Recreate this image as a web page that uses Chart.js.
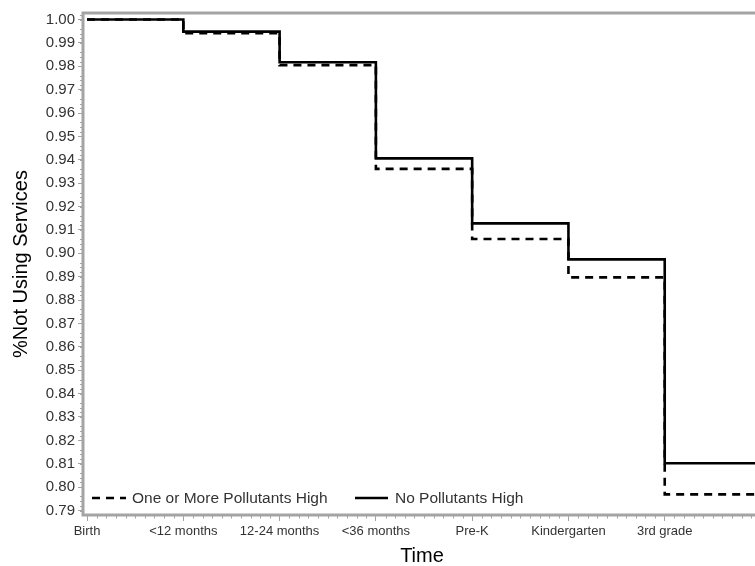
<!DOCTYPE html>
<html>
<head>
<meta charset="utf-8">
<script src="https://cdn.jsdelivr.net/npm/chart.js@4.4.1/dist/chart.umd.min.js"></script>
<style>
html,body{margin:0;padding:0;overflow:hidden;background:#fff;width:755px;height:566px}
#wrap{width:765px;height:566px}
</style>
</head>
<body>
<div id="wrap"><canvas id="c" width="765" height="566"></canvas></div>
<script>
// ---- data ----
const categories = ['Birth', '<12 months', '12-24 months', '<36 months', 'Pre-K', 'Kindergarten', '3rd grade'];
const stepTimes = [0, 1, 2, 3, 4, 5, 6, 7];
const noPollutantsHigh = [1.0000, 0.9948, 0.9817, 0.9406, 0.9128, 0.8974, 0.8102, 0.8102];
const onePlusPollutantsHigh = [1.0000, 0.9941, 0.9805, 0.9361, 0.9061, 0.8897, 0.7969, 0.7969];
const yTickValues = [0.79, 0.80, 0.81, 0.82, 0.83, 0.84, 0.85, 0.86, 0.87, 0.88, 0.89, 0.90,
                     0.91, 0.92, 0.93, 0.94, 0.95, 0.96, 0.97, 0.98, 0.99, 1.00];
const seriesNames = ['One or More Pollutants High', 'No Pollutants High'];
const axisTitles = { x: 'Time', y: '%Not Using Services' };

const FONT = "'Liberation Sans', Arial, Helvetica, sans-serif";
const FRAME = '#a4a4a4';
const DASH = [8, 6];

const toPoints = (vals) => stepTimes.map((t, i) => ({ x: t, y: vals[i] }));

const framePlugin = {
  id: 'frameAndMinor',
  afterDraw(chart) {
    const { ctx, chartArea: a, scales } = chart;
    ctx.save();
    // minor ticks
    ctx.strokeStyle = FRAME;
    ctx.lineWidth = 1;
    ctx.beginPath();
    const xs = scales.x;
    for (let v = 0; v <= 7.0001; v += 0.1) {
      const r = Math.round(v * 10);
      if (r % 10 === 0) continue;
      const px = Math.round(xs.getPixelForValue(v)) + 0.5;
      if (px > a.right) break;
      ctx.moveTo(px, a.bottom);
      ctx.lineTo(px, a.bottom + 3.5);
    }
    const ys = scales.y;
    for (let k = 0; k <= 110; k++) {
      if (k % 5 === 0) continue;
      const v = 0.788 + k * 0.002;
      if (v > ys.max || v < ys.min) continue;
      const py = Math.round(ys.getPixelForValue(v)) + 0.5;
      ctx.moveTo(a.left, py);
      ctx.lineTo(a.left - 3, py);
    }
    ctx.stroke();
    // frame
    ctx.strokeStyle = FRAME;
    ctx.lineWidth = 3;
    ctx.strokeRect(a.left, a.top, a.right - a.left, a.bottom - a.top);
    ctx.restore();
  }
};

const legendPlugin = {
  id: 'insideLegend',
  afterDraw(chart) {
    const { ctx } = chart;
    const ds = chart.data.datasets;
    const y = 498;
    const items = [
      { x0: 92, x1: 126, tx: 132, d: ds[1] },
      { x0: 355, x1: 388, tx: 395, d: ds[0] }
    ];
    ctx.save();
    items.forEach(it => {
      ctx.beginPath();
      ctx.strokeStyle = '#000';
      ctx.lineWidth = it.d.borderWidth;
      ctx.setLineDash(it.d.borderDash || []);
      ctx.moveTo(it.x0, y);
      ctx.lineTo(it.x1, y);
      ctx.stroke();
      ctx.setLineDash([]);
      ctx.fillStyle = '#333';
      ctx.font = '15.5px ' + FONT;
      ctx.textBaseline = 'middle';
      ctx.textAlign = 'left';
      ctx.fillText(it.d.label, it.tx, y + 1);
    });
    ctx.restore();
  }
};

new Chart(document.getElementById('c'), {
  type: 'line',
  data: {
    datasets: [
      {
        label: seriesNames[1],
        data: toPoints(noPollutantsHigh),
        borderColor: '#000',
        borderWidth: 2.6,
        stepped: 'before',
        pointRadius: 0,
        fill: false
      },
      {
        label: seriesNames[0],
        data: toPoints(onePlusPollutantsHigh),
        borderColor: '#000',
        borderWidth: 2.6,
        borderDash: DASH,
        stepped: 'before',
        pointRadius: 0,
        fill: false
      }
    ]
  },
  options: {
    responsive: false,
    animation: false,
    events: [],
    layout: { padding: { top: 13, right: 4, left: 0, bottom: 0 } },
    plugins: {
      legend: { display: false },
      tooltip: { enabled: false }
    },
    scales: {
      x: {
        type: 'linear',
        min: -0.042,
        max: 7,
        afterFit(s) { s.height = 51; },
        afterBuildTicks(s) { s.ticks = categories.map((_, i) => ({ value: i })); },
        ticks: {
          autoSkip: false,
          maxRotation: 0,
          padding: 3,
          color: '#333',
          font: { family: FONT, size: 13 },
          callback: (v) => categories[v] ?? ''
        },
        grid: { drawOnChartArea: false, drawTicks: true, tickLength: 6, color: FRAME, lineWidth: 1 },
        border: { display: false },
        title: {
          display: true,
          text: axisTitles.x,
          color: '#000',
          font: { family: FONT, size: 20, lineHeight: 1 },
          padding: { top: 0, bottom: 0 }
        }
      },
      y: {
        type: 'linear',
        min: 0.78808,
        max: 1.00278,
        afterFit(s) { s.width = 83; },
        afterBuildTicks(s) { s.ticks = yTickValues.map(v => ({ value: v })); },
        ticks: {
          autoSkip: false,
          padding: 3,
          color: '#333',
          font: { family: FONT, size: 15 },
          callback: (v) => Number(v).toFixed(2)
        },
        grid: { drawOnChartArea: false, drawTicks: true, tickLength: 5, color: FRAME, lineWidth: 1 },
        border: { display: false },
        title: {
          display: true,
          text: axisTitles.y,
          color: '#000',
          font: { family: FONT, size: 20, lineHeight: 1 },
          padding: { top: 11, bottom: 0 }
        }
      }
    }
  },
  plugins: [framePlugin, legendPlugin]
});
</script>
</body>
</html>
